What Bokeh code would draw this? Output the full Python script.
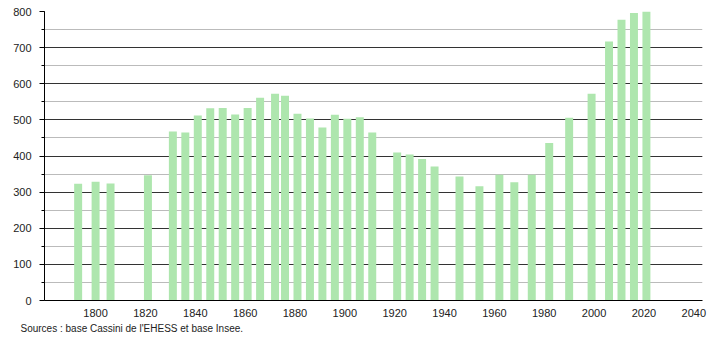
from bokeh.plotting import figure
from bokeh.models import SingleIntervalTicker, FixedTicker, Range1d, Title, ColumnDataSource
from bokeh.embed import file_html
from bokeh.resources import INLINE

years = [1793, 1800, 1806, 1821, 1831, 1836, 1841, 1846, 1851, 1856, 1861, 1866,
         1872, 1876, 1881, 1886, 1891, 1896, 1901, 1906, 1911, 1921, 1926, 1931,
         1936, 1946, 1954, 1962, 1968, 1975, 1982, 1990, 1999, 2006, 2011, 2016, 2021]
population = [323, 329, 324, 347, 468, 465, 512, 532, 533, 515, 533, 561,
              572, 567, 517, 504, 479, 514, 503, 507, 465, 410, 404, 392,
              371, 343, 316, 348, 327, 348, 436, 506, 572, 717, 777, 796, 800]
x_ticks = [1800, 1820, 1840, 1860, 1880, 1900, 1920, 1940, 1960, 1980, 2000, 2020, 2040]
source_text = "Sources : base Cassini de l'EHESS et base Insee."

src = ColumnDataSource(dict(x=years, top=population))

p = figure(width=710, height=340, output_backend="svg", toolbar_location=None,
           x_range=Range1d(1779.5, 2043.5), y_range=Range1d(0, 800),
           min_border_left=44, min_border_right=8, min_border_top=11, min_border_bottom=40)
p.outline_line_color = None
p.background_fill_color = "white"
p.border_fill_color = "white"

p.vbar(x="x", top="top", width=3.2, bottom=0, source=src,
       fill_color="#aee6ae", line_color=None)

font = "Liberation Sans"

# y axis
p.yaxis.ticker = SingleIntervalTicker(interval=100, num_minor_ticks=2)
p.yaxis.axis_line_color = "black"
p.yaxis.major_tick_line_color = "black"
p.yaxis.minor_tick_line_color = "black"
p.yaxis.major_tick_out = 5
p.yaxis.major_tick_in = 0
p.yaxis.minor_tick_out = 3
p.yaxis.minor_tick_in = 0
p.yaxis.major_label_standoff = 8
p.yaxis.major_label_text_font = font
p.yaxis.major_label_text_font_size = "11px"
p.yaxis.major_label_text_color = "#222222"

# x axis
p.xaxis.ticker = FixedTicker(ticks=x_ticks)
p.xaxis.axis_line_color = "black"
p.xaxis.major_tick_line_color = None
p.xaxis.minor_tick_line_color = None
p.xaxis.major_label_standoff = 2
p.xaxis.major_label_text_font = font
p.xaxis.major_label_text_font_size = "11px"
p.xaxis.major_label_text_color = "#222222"

# grids
p.xgrid.grid_line_color = None
p.ygrid.grid_line_color = "#333333"
p.ygrid.grid_line_width = 1
p.ygrid.minor_grid_line_color = "#bbbbbb"
p.ygrid.level = "underlay"

t = Title(text=source_text, align="left", offset=-24, standoff=2,
          text_font=font, text_font_size="10px", text_font_style="normal",
          text_color="#222222")
p.add_layout(t, "below")

open("out.html", "w").write(file_html(p, INLINE))
